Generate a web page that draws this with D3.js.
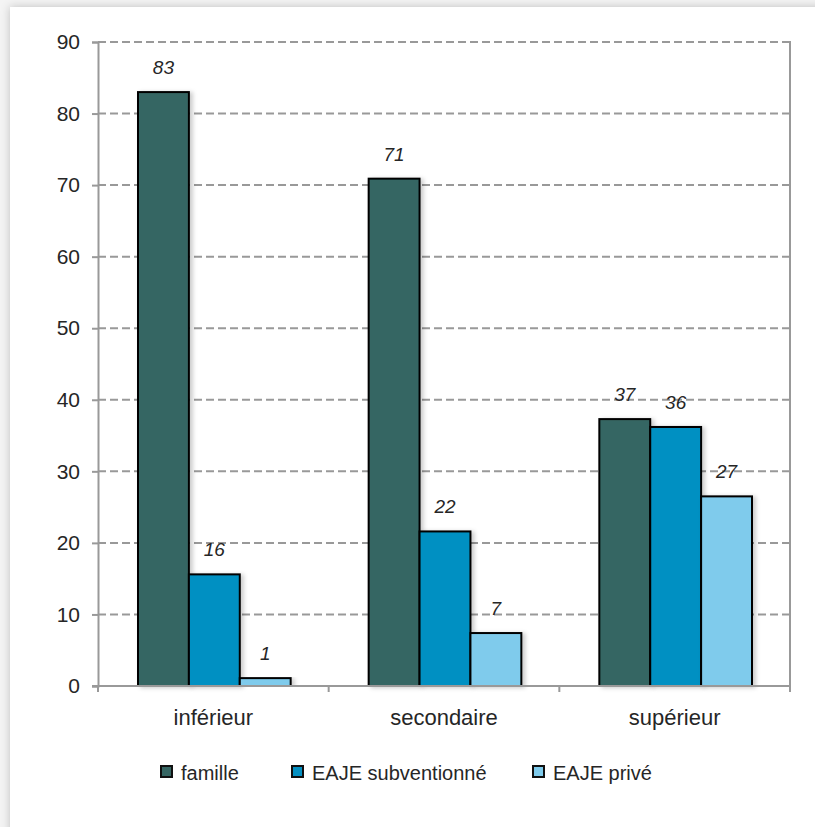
<!DOCTYPE html>
<html lang="fr">
<head>
<meta charset="UTF-8">
<title>Mode de garde</title>
<style>
  body { margin: 0; background: #fff; }
  text { font-family: "Liberation Sans", Arial, sans-serif; fill: #262626; }
</style>
</head>
<body>
<svg id="svg" width="815" height="827"></svg>
<script src="https://d3js.org/d3.v7.min.js"></script>
<script>
  const categories = ['inférieur', 'secondaire', 'supérieur']
  const series = ['famille', 'EAJE subventionné', 'EAJE privé']
  const famille = [83.0, 70.9, 37.3]
  const subventionne = [15.6, 21.6, 36.2]
  const prive = [1.1, 7.4, 26.5]
  const yTicks = [0, 10, 20, 30, 40, 50, 60, 70, 80, 90]
  const colors = ['#366663', '#0590c2', '#7fcbec']

  const values = [famille, subventionne, prive]

  const svg = d3.select('#svg')

  // card + shadow
  const defs = svg.append('defs')
  const f = defs.append('filter').attr('id', 'card').attr('x', -0.1).attr('y', -0.1).attr('width', 1.3).attr('height', 1.3)
  f.append('feDropShadow').attr('dx', 0).attr('dy', 0).attr('stdDeviation', 5).attr('flood-color', '#000').attr('flood-opacity', 0.22)
  const fb = defs.append('filter').attr('id', 'barsh').attr('x', -0.2).attr('y', -0.1).attr('width', 1.5).attr('height', 1.2)
  fb.append('feDropShadow').attr('dx', 3).attr('dy', 1).attr('stdDeviation', 2).attr('flood-color', '#000').attr('flood-opacity', 0.2)

  svg.append('rect').attr('width', 815).attr('height', 827).attr('fill', '#f4f4f4')
  svg.append('rect')
    .attr('x', 10).attr('y', 7).attr('width', 840).attr('height', 860)
    .attr('fill', '#fff').attr('filter', 'url(#card)')

  const mLeft = 98, mRight = 790, mTop = 42, mBottom = 686

  const x = d3.scaleBand().domain(categories).range([mLeft, mRight])
  const xInner = d3.scaleBand().domain(series).range([40, x.bandwidth() - 38])
  const y = d3.scaleLinear().domain([0, 90]).range([mBottom, mTop])

  // gridlines
  svg.append('g').selectAll('line')
    .data(yTicks.filter(d => d > 0))
    .join('line')
    .attr('x1', mLeft).attr('x2', mRight)
    .attr('y1', d => y(d)).attr('y2', d => y(d))
    .attr('stroke', '#999').attr('stroke-width', 2)
    .attr('stroke-dasharray', '8,4')

  // right border
  svg.append('line')
    .attr('x1', mRight).attr('x2', mRight).attr('y1', mTop - 1).attr('y2', mBottom)
    .attr('stroke', '#999').attr('stroke-width', 2)

  // y axis
  const yAxis = svg.append('g')
    .attr('transform', `translate(${mLeft},0)`)
    .call(d3.axisLeft(y).tickValues(yTicks).tickSize(6).tickPadding(12))
  yAxis.select('.domain').attr('stroke', '#999').attr('stroke-width', 2)
  yAxis.selectAll('.tick line').attr('stroke', '#999').attr('stroke-width', 2)
  yAxis.selectAll('.tick text').attr('font-size', 21).attr('fill', '#262626')
    .style('font-family', '"Liberation Sans", Arial, sans-serif')

  // bars
  const groups = svg.append('g').selectAll('g')
    .data(categories)
    .join('g')
    .attr('transform', d => `translate(${x(d)},0)`)

  groups.selectAll('rect')
    .data((c, i) => series.map((s, j) => ({ s, j, v: values[j][i] })))
    .join('rect')
    .attr('x', d => xInner(d.s))
    .attr('y', d => y(d.v))
    .attr('width', xInner.bandwidth())
    .attr('height', d => y(0) - y(d.v))
    .attr('fill', d => colors[d.j])
    .attr('stroke', '#000').attr('stroke-width', 2)
    .attr('filter', 'url(#barsh)')

  groups.selectAll('text')
    .data((c, i) => series.map((s, j) => ({ s, j, v: values[j][i] })))
    .join('text')
    .attr('x', d => xInner(d.s) + xInner.bandwidth() / 2)
    .attr('y', d => y(d.v) - 18)
    .attr('text-anchor', 'middle')
    .attr('font-size', 19)
    .attr('font-style', 'italic')
    .text(d => Math.round(d.v))

  // x axis
  const xAxis = svg.append('g')
    .attr('transform', `translate(0,${mBottom})`)
  xAxis.append('line').attr('x1', mLeft - 6).attr('x2', mRight).attr('stroke', '#999').attr('stroke-width', 2)
  xAxis.selectAll('.tk')
    .data(categories.map(c => x(c)).concat([mRight]))
    .join('line')
    .attr('class', 'tk')
    .attr('x1', d => d).attr('x2', d => d).attr('y1', 0).attr('y2', 6)
    .attr('stroke', '#999').attr('stroke-width', 2)
  xAxis.selectAll('.lbl')
    .data(categories)
    .join('text')
    .attr('class', 'lbl')
    .attr('x', d => x(d) + x.bandwidth() / 2)
    .attr('y', 39)
    .attr('text-anchor', 'middle')
    .attr('font-size', 22)
    .text(d => d)

  // legend
  const legendX = [161, 292, 533]
  const legend = svg.append('g').selectAll('g')
    .data(series)
    .join('g')
    .attr('transform', (d, i) => `translate(${legendX[i]},773)`)
  legend.append('rect')
    .attr('x', 0).attr('y', -7).attr('width', 11).attr('height', 11)
    .attr('fill', (d, i) => colors[i]).attr('stroke', '#111').attr('stroke-width', 2)
  legend.append('text')
    .attr('x', 20).attr('y', 7)
    .attr('font-size', 20)
    .text(d => d)
</script>
</body>
</html>
